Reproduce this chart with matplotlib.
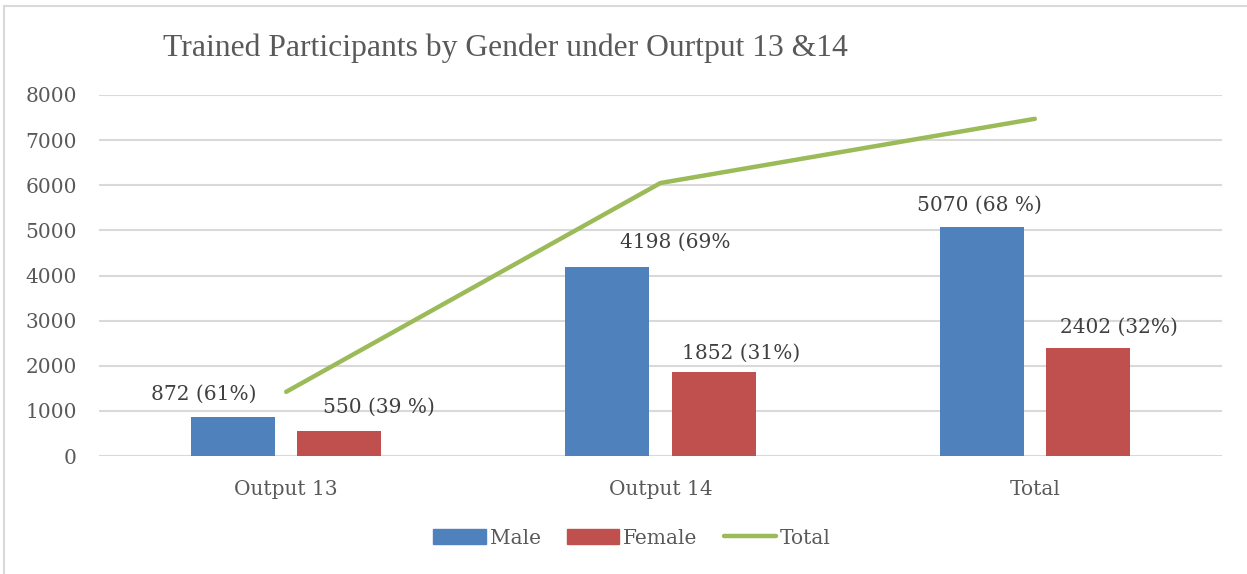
import numpy as np
import matplotlib.pyplot as plt
from matplotlib.patches import Rectangle
from matplotlib.lines import Line2D

### chart data
categories = ["Output 13", "Output 14", "Total"]
male = [872, 4198, 5070]
female = [550, 1852, 2402]
total = [1422, 6050, 7472]
male_labels = ["872 (61%)", "4198 (69%", "5070 (68 %)"]
female_labels = ["550 (39 %)", "1852 (31%)", "2402 (32%)"]

### label nudges in pixels (x, y above bar top)
male_nudge = [(-29, 22), (68, 24), (-2, 22)]
female_nudge = [(40, 24), (27, 19), (31, 20)]

serif = ["DejaVu Serif"]
plt.rcParams["font.family"] = serif

fig = plt.figure(figsize=(12.47, 5.74), dpi=100)
ax = fig.add_axes([99 / 1247, 1 - 456 / 574, 1123 / 1247, 361 / 574])

x = np.arange(len(categories))
w = 0.224
off = 0.142
ax.bar(x - off, male, w, color="#4F81BD", label="Male", zorder=2)
ax.bar(x + off, female, w, color="#C0504D", label="Female", zorder=2)
ax.plot(x, total, color="#9BBB59", lw=3.2, solid_capstyle="round", zorder=3)

for i in range(len(categories)):
    ax.annotate(male_labels[i], (x[i] - off, male[i]), xytext=male_nudge[i],
                textcoords="offset pixels", ha="center", va="center",
                fontsize=14.5, color="#404040")
    ax.annotate(female_labels[i], (x[i] + off, female[i]), xytext=female_nudge[i],
                textcoords="offset pixels", ha="center", va="center",
                fontsize=14.5, color="#404040")

ax.set_xlim(-0.5, 2.5)
ax.set_ylim(0, 8000)
ax.set_yticks(np.arange(0, 8001, 1000))
ax.set_xticks(x)
ax.set_xticklabels(categories)
ax.grid(axis="y", color="#D9D9D9", lw=1.5, zorder=0)
ax.set_axisbelow(True)
for s in ax.spines.values():
    s.set_visible(False)
ax.tick_params(length=0, labelsize=14.5, colors="#595959")
ax.tick_params(axis="y", pad=16)
ax.tick_params(axis="x", pad=17)

fig.text(163 / 1247, 1 - 48 / 574, "Trained Participants by Gender under Ourtput 13 &14",
         fontsize=22.8, color="#595959", ha="left", va="center",
         family="Liberation Serif")

handles = [Rectangle((0, 0), 1, 1, color="#4F81BD"),
           Rectangle((0, 0), 1, 1, color="#C0504D"),
           Line2D([0], [0], color="#9BBB59", lw=3.2, solid_capstyle="round")]
leg = fig.legend(handles, ["Male", "Female", "Total"], loc="center", ncol=3,
                 bbox_to_anchor=(0.507, 1 - 538 / 574), frameon=False,
                 fontsize=14.5, handlelength=2.6, handleheight=0.7,
                 handletextpad=0.2, columnspacing=1.3)
for t in leg.get_texts():
    t.set_color("#595959")

# chart border
fig.patches.append(Rectangle((4 / 1247, -0.01), 1.1, 1 - 6 / 574 + 0.01,
                             transform=fig.transFigure, fill=False,
                             edgecolor="#D9D9D9", lw=1.5))

fig.savefig("out.png", dpi=100)
